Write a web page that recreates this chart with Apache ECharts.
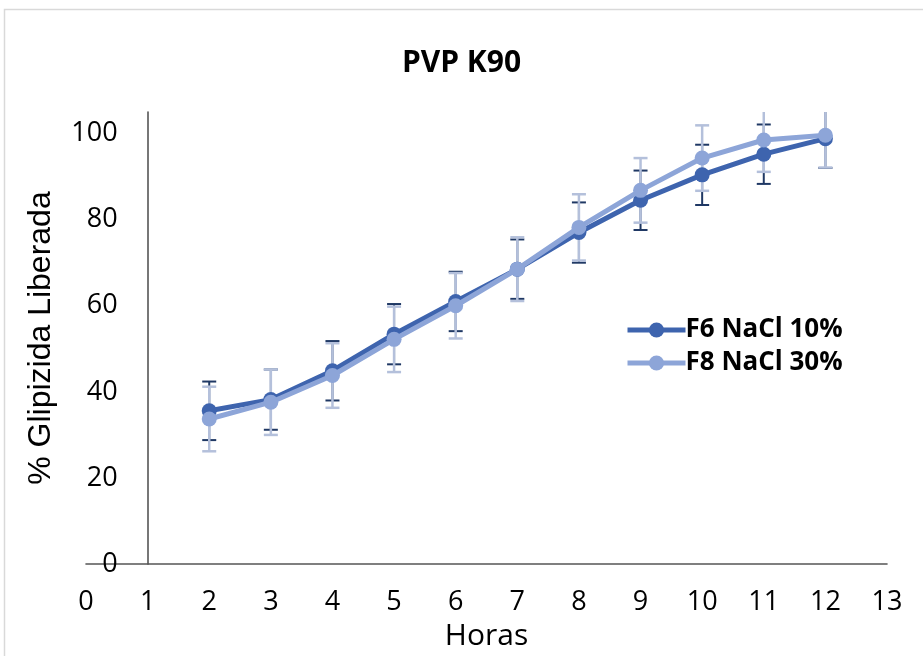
<!DOCTYPE html>
<html>
<head>
<meta charset="utf-8">
<script src="https://cdn.jsdelivr.net/npm/echarts@6/dist/echarts.min.js"></script>
<style>
html,body{margin:0;padding:0;background:#fff;}
#chart{width:923px;height:656px;}
</style>
</head>
<body>
<div id="chart"></div>
<script>
// ---- data ----
var hours = [2, 3, 4, 5, 6, 7, 8, 9, 10, 11, 12];
var f6Name = 'F6 NaCl 10%';
var f8Name = 'F8 NaCl 30%';
var f6Values = [35.6, 38.2, 44.9, 53.4, 61.0, 68.5, 77.0, 84.5, 90.4, 95.2, 98.8];
var f6Errors = [6.8, 7.0, 6.9, 7.0, 6.9, 6.9, 7.0, 6.9, 7.0, 6.9, 6.8];
var f8Values = [33.7, 37.6, 43.8, 52.2, 60.0, 68.5, 78.2, 86.8, 94.3, 98.5, 99.6];
var f8Errors = [7.5, 7.6, 7.5, 7.6, 7.6, 7.4, 7.7, 7.5, 7.6, 7.4, 7.5];
var yTicks = [0, 20, 40, 60, 80, 100];
var xTicks = [0, 1, 2, 3, 4, 5, 6, 7, 8, 9, 10, 11, 12, 13];

var chart = echarts.init(document.getElementById('chart'), null, {renderer: 'canvas'});

function pairs(xs, ys) { return xs.map(function (x, i) { return [x, ys[i]]; }); }
function errData(xs, ys, es) { return xs.map(function (x, i) { return [x, ys[i] - es[i], ys[i] + es[i]]; }); }

function errRenderer(color, width) {
  return function (params, api) {
    var x = api.value(0);
    var lo = api.coord([x, api.value(1)]);
    var hi = api.coord([x, api.value(2)]);
    var hw = 7;
    var style = {stroke: color, lineWidth: width, fill: null};
    return {
      type: 'group',
      children: [
        {type: 'line', shape: {x1: lo[0], y1: lo[1], x2: hi[0], y2: hi[1]}, style: style},
        {type: 'line', shape: {x1: lo[0] - hw, y1: lo[1], x2: lo[0] + hw, y2: lo[1]}, style: style},
        {type: 'line', shape: {x1: hi[0] - hw, y1: hi[1], x2: hi[0] + hw, y2: hi[1]}, style: style}
      ]
    };
  };
}

var darkColor = '#3E64AE';
var lightColor = '#8DA5D8';

var option = {
  backgroundColor: '#ffffff',
  animation: false,
  graphic: [{
    type: 'rect', shape: {x: 4.5, y: 9.5, width: 940, height: 670},
    style: {fill: null, stroke: '#d9d9d9', lineWidth: 1.5}, silent: true
  }],
  title: {
    text: 'PVP K90', left: 'center', top: 43,
    textStyle: {fontFamily: 'Open Sans', fontWeight: 'bold', fontSize: 30, color: '#000'}
  },
  legend: {
    orient: 'vertical', left: 620, top: 312, itemGap: 7,
    itemWidth: 58, itemHeight: 19,
    data: [f6Name, f8Name],
    lineStyle: {width: 5},
    textStyle: {fontFamily: 'Open Sans', fontWeight: 'bold', fontSize: 26, color: '#000', padding: [0, 0, 0, -5]}
  },
  grid: {left: 86, right: 36, top: 112, bottom: 90, containLabel: false},
  xAxis: {
    type: 'value', min: 0, max: 13, interval: 1,
    name: 'Horas', nameLocation: 'middle', nameGap: 51,
    nameTextStyle: {fontFamily: 'Open Sans', fontSize: 30, color: '#000'},
    axisLine: {show: true, onZero: false, lineStyle: {color: '#555555', width: 1.6}},
    axisTick: {show: false},
    splitLine: {show: false},
    axisLabel: {fontFamily: 'Open Sans', fontSize: 27, color: '#000', margin: 25,
      formatter: function (v) { return xTicks.indexOf(v) >= 0 ? String(v) : ''; }}
  },
  yAxis: {
    type: 'value', min: 0, max: 105, interval: 20, offset: -61.6,
    name: '% Glipizida Liberada', nameLocation: 'middle', nameGap: 90,
    nameTextStyle: {fontFamily: 'Liberation Sans', fontSize: 32, color: '#000'},
    axisLine: {show: true, lineStyle: {color: '#555555', width: 1.6}},
    axisTick: {show: false},
    splitLine: {show: false},
    axisLabel: {fontFamily: 'Open Sans', fontSize: 27, color: '#000', margin: 30, showMaxLabel: false,
      formatter: function (v) { return yTicks.indexOf(v) >= 0 ? String(v) : ''; }}
  },
  series: [
    {
      type: 'custom', name: 'errF6', z: 1, clip: true,
      renderItem: errRenderer('#1F3864', 2),
      encode: {x: 0, y: [1, 2]},
      data: errData(hours, f6Values, f6Errors)
    },
    {
      type: 'custom', name: 'errF8', z: 2, clip: true,
      renderItem: errRenderer('#B4C0DB', 2.5),
      encode: {x: 0, y: [1, 2]},
      data: errData(hours, f8Values, f8Errors)
    },
    {
      type: 'line', name: f6Name, z: 3,
      data: pairs(hours, f6Values),
      symbol: 'circle', symbolSize: 15,
      itemStyle: {color: darkColor},
      lineStyle: {color: darkColor, width: 5}
    },
    {
      type: 'line', name: f8Name, z: 4,
      data: pairs(hours, f8Values),
      symbol: 'circle', symbolSize: 15,
      itemStyle: {color: lightColor},
      lineStyle: {color: lightColor, width: 5}
    }
  ]
};
chart.setOption(option);
</script>
</body>
</html>
